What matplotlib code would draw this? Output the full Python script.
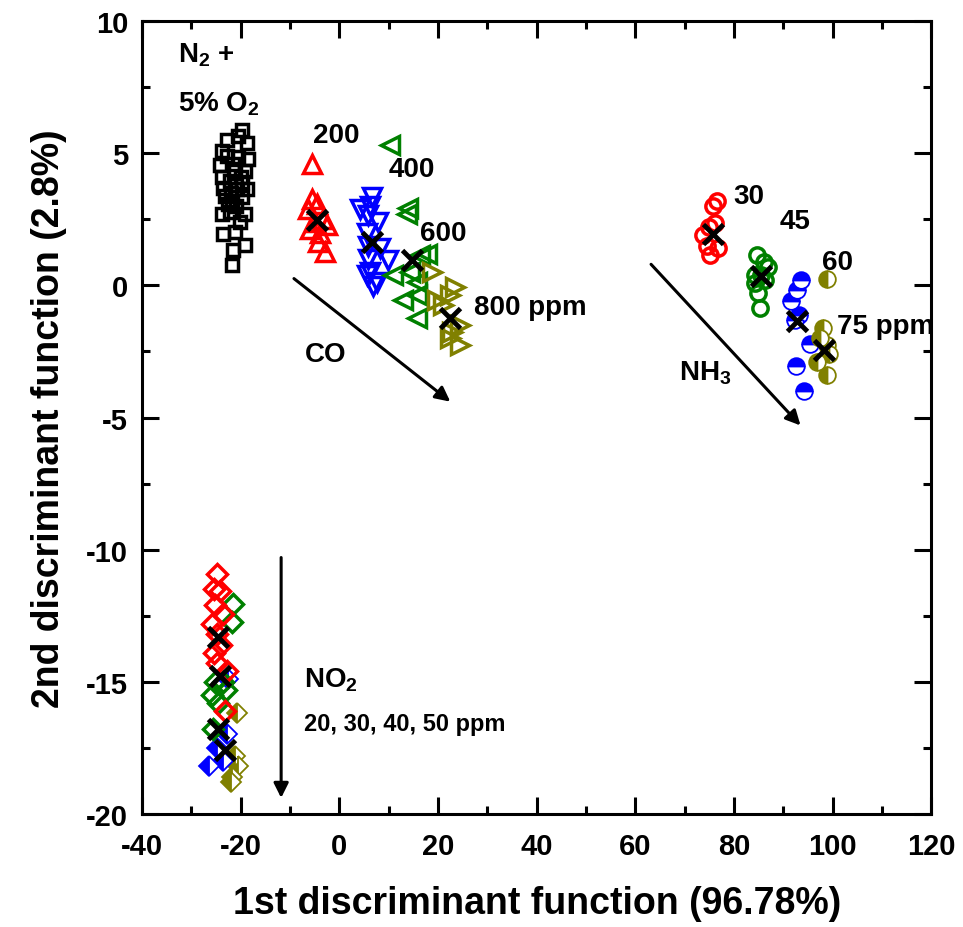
import matplotlib
matplotlib.use("Agg")
import matplotlib.pyplot as plt
from matplotlib.ticker import MultipleLocator

plt.rcParams['font.family'] = ['Liberation Sans', 'DejaVu Sans']
plt.rcParams['font.weight'] = 'bold'
plt.rcParams['axes.unicode_minus'] = False
plt.rcParams['mathtext.fontset'] = 'custom'
plt.rcParams['mathtext.rm'] = 'Liberation Sans:bold'
plt.rcParams['mathtext.it'] = 'Liberation Sans:bold'
plt.rcParams['mathtext.bf'] = 'Liberation Sans:bold'

# N2 + 5% O2 baseline
n2_x = [-21.8, -21.5, -19.1, -23.6, -21.1, -23.8, -22.1, -19.1, -21.8, -19.8,
        -19.8, -20.5, -22.8, -18.8, -23.8, -20.5, -18.5, -24.2, -21.1, -19.2,
        -23.8, -22.1, -19.8, -23.6, -20.8, -18.8, -23.2, -21.0, -22.5, -20.2,
        -21.5, -22.8, -20.0, -21.0, -22.0]
n2_y = [0.77, 1.33, 1.52, 1.96, 2.02, 2.7, 2.78, 2.7, 3.2, 3.35,
        5.9, 5.67, 5.5, 5.4, 5.1, 4.85, 4.8, 4.55, 4.35, 4.35,
        4.1, 3.97, 3.9, 3.7, 3.66, 3.66, 3.4, 3.0, 3.1, 2.4,
        4.6, 4.9, 4.1, 3.8, 3.5]

# CO: 200, 400, 600, 800 ppm
co200_x = [-5.6, -5.6, -4.6, -6.3, -3.3, -2.5, -5.9, -3.9, -4.3, -2.9, -5.0]
co200_y = [4.6, 3.28, 3.1, 2.9, 2.5, 2.28, 2.15, 2.0, 1.66, 1.28, 2.4]
co400_x = [6.6, 4.2, 6.3, 5.9, 7.9, 5.6, 5.9, 8.3, 9.9, 5.9, 6.2, 7.6, 5.6, 6.9]
co400_y = [3.35, 2.9, 3.0, 2.65, 2.4, 2.0, 1.5, 1.4, 0.95, 1.0, 0.5, 0.13, 0.4, -0.04]
co600_x = [10.3, 13.7, 14.0, 16.4, 17.8, 10.9, 14.4, 15.7, 13.0, 15.7, 15.7]
co600_y = [5.3, 2.7, 2.95, 1.15, 1.2, 0.4, 0.5, 0.13, -0.55, -0.36, -1.25]
co800_x = [18.7, 19.7, 23.5, 22.5, 24.5, 22.8, 24.5, 22.5, 21.1]
co800_y = [0.52, -0.55, -0.05, -0.37, -1.5, -1.75, -2.25, -2.0, -0.74]
co_cx = [-4.6, 6.6, 14.7, 22.5]
co_cy = [2.46, 1.65, 0.95, -1.25]

# NH3: 30, 45, 60, 75 ppm
nh30_x = [75.8, 76.6, 76.2, 74.5, 75.2, 76.8, 73.8, 75.0]
nh30_y = [3.0, 3.2, 2.35, 1.5, 1.15, 1.4, 1.9, 2.2]
nh45_x = [84.7, 86.0, 87.0, 84.3, 85.5, 84.3, 84.9, 85.3, 86.2]
nh45_y = [1.15, 0.9, 0.7, 0.4, 0.4, 0.1, -0.3, -0.87, 0.2]
nh60_x = [93.6, 92.7, 91.6, 93.1, 92.4, 95.5, 92.5, 94.3]
nh60_y = [0.2, -0.18, -0.6, -1.1, -1.3, -2.2, -3.06, -4.0]
nh75_x = [98.9, 98.1, 98.9, 96.9, 98.9, 99.2, 97.5]
nh75_y = [0.26, -1.6, -2.25, -2.9, -3.4, -2.6, -2.0]
nh_cx = [75.8, 85.4, 92.8, 98.3]
nh_cy = [1.96, 0.34, -1.36, -2.45]

# NO2: 20, 30, 40, 50 ppm
no20_x = [-24.8, -25.5, -24.2, -25.2, -23.6, -25.9, -24.8, -25.5, -24.8, -22.8, -23.2, -24.0]
no20_y = [-10.93, -11.5, -11.55, -12.1, -12.45, -12.8, -13.2, -13.9, -14.3, -14.6, -16.1, -13.6]
no30_x = [-21.5, -21.8, -25.2, -25.9, -24.6, -23.0, -25.6, -23.5]
no30_y = [-12.06, -12.75, -15.0, -15.5, -15.8, -15.3, -16.8, -15.0]
no40_x = [-22.8, -24.8, -26.5, -23.6, -22.5]
no40_y = [-16.97, -17.5, -18.2, -18.0, -14.9]
no50_x = [-20.8, -21.2, -20.5, -21.8, -22.0]
no50_y = [-16.2, -17.8, -18.2, -18.6, -18.8]
no_cx = [-24.6, -24.2, -24.6, -23.2]
no_cy = [-13.3, -14.8, -16.8, -17.6]

red = '#ff0000'
blue = '#0000ff'
green = '#008000'
olive = '#808000'

fig = plt.figure(figsize=(9.63, 9.28), dpi=100)
ax = fig.add_axes([0.1475, 0.122, 0.8195, 0.854])

mk = dict(linestyle='none', mew=2.5)
half = dict(linestyle='none', mew=1.3, markerfacecoloralt='white')
ax.plot(n2_x, n2_y, marker='s', ms=9, mfc='none', mec='black', **mk)

ax.plot(co200_x, co200_y, marker='^', ms=13, mfc='none', mec=red, **mk)
ax.plot(co400_x, co400_y, marker='v', ms=13, mfc='none', mec=blue, **mk)
ax.plot(co600_x, co600_y, marker='<', ms=13, mfc='none', mec=green, **mk)
ax.plot(co800_x, co800_y, marker='>', ms=13, mfc='none', mec=olive, **mk)

ax.plot(nh30_x, nh30_y, marker='o', ms=11, mfc='none', mec=red, **mk)
ax.plot(nh45_x, nh45_y, marker='o', ms=11, mfc='none', mec=green, **mk)
ax.plot(nh60_x, nh60_y, marker='o', ms=12, color=blue, fillstyle='top', **half)
ax.plot(nh75_x, nh75_y, marker='o', ms=12, color=olive, fillstyle='left', **half)

ax.plot(no50_x, no50_y, marker='D', ms=10, color=olive, fillstyle='left', **half)
ax.plot(no40_x, no40_y, marker='D', ms=10, color=blue, fillstyle='left', **half)
ax.plot(no30_x, no30_y, marker='D', ms=10, mfc='none', mec=green, **mk)
ax.plot(no20_x, no20_y, marker='D', ms=10, mfc='none', mec=red, **mk)

for cx, cy in [(co_cx, co_cy), (nh_cx, nh_cy), (no_cx, no_cy)]:
    ax.plot(cx, cy, marker='x', ms=14, mew=3.5, color='black', linestyle='none')

# arrows
arrow = dict(arrowstyle='-|>', color='black', lw=2.2, mutation_scale=22,
             shrinkA=0, shrinkB=0)
ax.annotate('', xy=(22.5, -4.4), xytext=(-9.2, 0.26), arrowprops=arrow)
ax.annotate('', xy=(93.5, -5.3), xytext=(63.2, 0.8), arrowprops=arrow)
ax.annotate('', xy=(-11.8, -19.4), xytext=(-11.8, -10.3), arrowprops=arrow)

fs = 20
txt = dict(fontsize=fs, fontweight='bold', va='center', ha='left')
ax.text(-32.7, 8.75, r'N$_2$ +', **txt)
ax.text(-32.7, 6.9, r'5% O$_2$', **txt)
ax.text(-5.3, 5.7, '200', **txt)
ax.text(9.9, 4.4, '400', **txt)
ax.text(16.4, 2.0, '600', **txt)
ax.text(27.3, -0.8, '800 ppm', **txt)
ax.text(-7.0, -2.6, 'CO', **txt)
ax.text(79.9, 3.4, '30', **txt)
ax.text(89.2, 2.45, '45', **txt)
ax.text(97.9, 0.9, '60', **txt)
ax.text(100.8, -1.55, '75 ppm', **txt)
ax.text(68.9, -3.3, r'NH$_3$', **txt)
ax.text(-7.1, -14.9, r'NO$_2$', **txt)
ax.text(-7.1, -16.6, '20, 30, 40, 50 ppm', fontsize=17, fontweight='bold',
        va='center', ha='left')

ax.set_xlim(-40, 120)
ax.set_ylim(-20, 10)
ax.xaxis.set_major_locator(MultipleLocator(20))
ax.xaxis.set_minor_locator(MultipleLocator(10))
ax.yaxis.set_major_locator(MultipleLocator(5))
ax.yaxis.set_minor_locator(MultipleLocator(2.5))
ax.tick_params(which='both', direction='in', top=True, right=True, width=2.2)
ax.tick_params(which='major', length=12, labelsize=21, pad=10)
ax.tick_params(which='minor', length=6)
ax.tick_params(axis='x', which='major', pad=13)
for lab in ax.get_xticklabels() + ax.get_yticklabels():
    lab.set_fontweight('bold')
for s in ax.spines.values():
    s.set_linewidth(2.2)

ax.set_xlabel('1st discriminant function (96.78%)', fontsize=27,
              fontweight='bold', labelpad=18)
ax.set_ylabel('2nd discriminant function (2.8%)', fontsize=27,
              fontweight='bold', labelpad=14)

fig.savefig('out.png', dpi=100)
